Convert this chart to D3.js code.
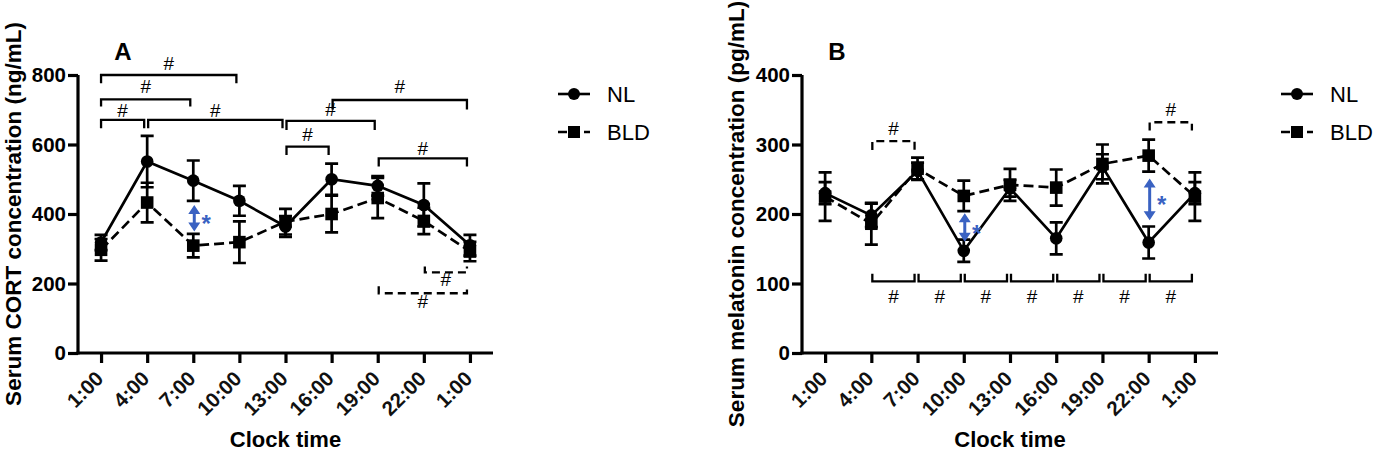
<!DOCTYPE html>
<html>
<head>
<meta charset="utf-8">
<script src="https://cdn.jsdelivr.net/npm/d3@7"></script>
<style>
  html, body { margin: 0; padding: 0; background: #fff; }
  svg, svg text { font-family: "Liberation Sans", Arial, Helvetica, sans-serif; }
  svg { display: block; }
</style>
</head>
<body>
<div id="chart"></div>
<script>
/* Суточные ритмы: кортикостерон (A) и мелатонин (B), NL vs BLD */

// Категории по оси X (последняя 1:00 - следующие сутки)
const clockTimes = ['1:00', '4:00', '7:00', '10:00', '13:00', '16:00', '19:00', '22:00', '1:00'];

// Панель A - CORT, ng/mL (среднее и SEM)
const cortNL = [318, 551, 496, 438, 364, 500, 481, 426, 310];
const cortNLsem = [22, 74, 58, 43, 30, 45, 28, 62, 30];
const cortBLD = [297, 433, 309, 319, 378, 400, 446, 380, 292];
const cortBLDsem = [31, 57, 34, 60, 37, 53, 58, 38, 28];
const cortTicks = [0, 200, 400, 600, 800];

// Панель B - мелатонин, pg/mL
const melNL = [230, 198, 262, 147, 237, 165, 268, 159, 230];
const melNLsem = [16, 17, 12, 16, 12, 23, 18, 23, 16];
const melBLD = [225, 186, 265, 226, 242, 238, 272, 284, 225];
const melBLDsem = [35, 30, 16, 22, 23, 26, 28, 23, 35];
const melTicks = [0, 100, 200, 300, 400];

// Скобки значимости: [от, до, уровень, конец, подпись, пунктир]
const cortBrackets = [
    [0, 3, 800, 776, 834, false],
    [0, 2, 730, 709, 766, false],
    [0, 1, 671, 647, 699, false],
    [1, 4, 671, 647, 697, false],
    [4, 6, 668, 642, 701, false],
    [5, 8, 728, 701, 766, false],
    [4, 5, 594, 570, 628, false],
    [6, 8, 560, 537, 588, false],
    [7, 8, 232, 249, 211, true],
    [6, 8, 172, 192, 148, true]
];
const melBrackets = [
    [1, 2, 305, 292, 323, true],
    [7, 8, 332, 320, 351, true],
    [1, 2, 103, 114, 81, false],
    [2, 3, 103, 114, 81, false],
    [3, 4, 103, 114, 81, false],
    [4, 5, 103, 114, 81, false],
    [5, 6, 103, 114, 81, false],
    [6, 7, 103, 114, 81, false],
    [7, 8, 103, 114, 81, false]
];

// Синие стрелки NL vs BLD: [индекс, верх, низ]
const cortArrows = [[2, 426, 350]];
const melArrows = [[3, 201, 160], [7, 251, 191]];

const W = 1373, H = 452;
const blue = '#3a62c2';

const svg = d3.select('#chart').append('svg')
    .attr('width', W)
    .attr('height', H);

function drawPanel(opt) {
    const g = svg.append('g');

    const x = d3.scalePoint()
        .domain(d3.range(clockTimes.length))
        .range([opt.x0, opt.x1])
        .padding(0.5);

    const y = d3.scaleLinear()
        .domain([0, opt.yMax])
        .range([353, 75]);

    // Ось Y
    const yAxis = g.append('g')
        .attr('transform', `translate(${opt.x0},0)`)
        .call(d3.axisLeft(y).tickValues(opt.ticks).tickSize(10).tickSizeOuter(0).tickPadding(2));

    // Ось X
    const xAxis = g.append('g')
        .attr('transform', 'translate(0,353)')
        .call(d3.axisBottom(x).tickSize(10).tickSizeOuter(0).tickFormat(i => clockTimes[i]));

    [yAxis, xAxis].forEach(a => {
        a.attr('font-family', null).attr('font-size', null);
        a.select('.domain').attr('stroke', '#000').attr('stroke-width', 3.2);
        a.selectAll('.tick line').attr('stroke', '#000').attr('stroke-width', 3.2);
    });
    yAxis.select('.domain').attr('d', `M0,${y(0) + 1.6}V${y(opt.yMax)}`);
    xAxis.select('.domain').attr('d', `M${opt.x0 - 1.6},0H${opt.x1}`);

    yAxis.selectAll('.tick text')
        .attr('font-size', 20.5)
        .attr('font-weight', 'bold')
        .attr('fill', '#000');

    xAxis.selectAll('.tick text')
        .style('font-size', '20.5px')
        .style('font-family', '"Liberation Sans", Arial, sans-serif')
        .attr('font-weight', 'bold')
        .attr('fill', '#111')
        .attr('text-anchor', 'end')
        .attr('dy', null)
        .attr('y', 0)
        .attr('transform', 'translate(3,27) rotate(-45)');

    // Подписи осей
    g.append('text')
        .attr('transform', `translate(${opt.titleX},214) rotate(-90)`)
        .attr('text-anchor', 'middle')
        .attr('dy', '0.35em')
        .attr('font-size', 22.5)
        .attr('font-weight', 'bold')
        .text(opt.yTitle);

    g.append('text')
        .attr('x', (opt.x0 + opt.x1) / 2)
        .attr('y', 447)
        .attr('text-anchor', 'middle')
        .attr('font-size', 22)
        .attr('font-weight', 'bold')
        .text('Clock time');

    g.append('text')
        .attr('x', opt.letterX)
        .attr('y', 60)
        .attr('text-anchor', 'middle')
        .attr('font-size', 24)
        .attr('font-weight', 'bold')
        .text(opt.letter);

    // Линии серий
    const series = [
        { mean: opt.nl, sem: opt.nlSem, dash: null, shape: 'circle' },
        { mean: opt.bld, sem: opt.bldSem, dash: '10,5', shape: 'square' }
    ];

    const line = d3.line()
        .x((d, i) => x(i))
        .y(d => y(d));

    series.forEach(s => {
        g.append('path')
            .datum(s.mean)
            .attr('d', line)
            .attr('fill', 'none')
            .attr('stroke', '#000')
            .attr('stroke-width', 2.7)
            .attr('stroke-dasharray', s.dash);
    });

    // Планки погрешностей
    series.forEach(s => {
        const eb = g.append('g').attr('stroke', '#000').attr('stroke-width', 2.7).attr('fill', 'none');
        s.mean.forEach((m, i) => {
            const cx = x(i), top = y(m + s.sem[i]), bot = y(m - s.sem[i]);
            eb.append('path').attr('d',
                `M${cx},${top}V${bot}M${cx - 6.5},${top}H${cx + 6.5}M${cx - 6.5},${bot}H${cx + 6.5}`);
        });
    });

    // Маркеры
    series.forEach(s => {
        s.mean.forEach((m, i) => {
            if (s.shape === 'circle') {
                g.append('circle').attr('cx', x(i)).attr('cy', y(m)).attr('r', 6.3).attr('fill', '#000');
            } else {
                g.append('rect').attr('x', x(i) - 6.3).attr('y', y(m) - 6.3)
                    .attr('width', 12.6).attr('height', 12.6).attr('fill', '#000');
            }
        });
    });

    // Скобки значимости
    opt.brackets.forEach(([a, b, level, tip, lab, dashed]) => {
        const xa = x(a) + (a > 0 ? 1 : 0), xb = x(b) - 3;
        g.append('path')
            .attr('d', `M${xa},${y(tip)}V${y(level)}H${xb}V${y(tip)}`)
            .attr('fill', 'none')
            .attr('stroke', '#000')
            .attr('stroke-width', 2.3)
            .attr('stroke-dasharray', dashed ? '8,5' : null);
        g.append('text')
            .attr('x', (xa + xb) / 2)
            .attr('y', y(lab))
            .attr('dy', '0.35em')
            .attr('text-anchor', 'middle')
            .attr('font-size', 19)
            .attr('fill', '#000')
            .text('#');
    });

    // Стрелки различий
    opt.arrows.forEach(([i, hi, lo]) => {
        const cx = x(i) + 1, yt = y(hi), yb = y(lo);
        g.append('line')
            .attr('x1', cx).attr('x2', cx)
            .attr('y1', yt + 6).attr('y2', yb - 6)
            .attr('stroke', blue).attr('stroke-width', 3);
        g.append('path')
            .attr('d', `M${cx},${yt}L${cx - 6},${yt + 9}H${cx + 6}Z M${cx},${yb}L${cx - 6},${yb - 9}H${cx + 6}Z`)
            .attr('fill', blue);
        g.append('text')
            .attr('x', cx + 12)
            .attr('y', (yt + yb) / 2 + 14)
            .attr('text-anchor', 'middle')
            .attr('font-size', 24)
            .attr('font-weight', 'bold')
            .attr('fill', blue)
            .text('*');
    });

    // Легенда
    const lg = g.append('g').attr('transform', `translate(${opt.legendX},0)`);
    [['NL', 94, null, 'circle'], ['BLD', 132, '9,4', 'square']].forEach(([name, ly, dash, shape]) => {
        lg.append('line')
            .attr('x1', 0).attr('x2', 32)
            .attr('y1', ly).attr('y2', ly)
            .attr('stroke', '#000').attr('stroke-width', 2.6)
            .attr('stroke-dasharray', dash);
        if (shape === 'circle') {
            lg.append('circle').attr('cx', 16).attr('cy', ly).attr('r', 6);
        } else {
            lg.append('rect').attr('x', 10).attr('y', ly - 6).attr('width', 12).attr('height', 12);
        }
        lg.append('text')
            .attr('x', 49)
            .attr('y', ly)
            .attr('dy', '0.36em')
            .attr('font-size', 22)
            .text(name);
    });
}

drawPanel({
    x0: 78, x1: 493, yMax: 800, ticks: cortTicks,
    nl: cortNL, nlSem: cortNLsem, bld: cortBLD, bldSem: cortBLDsem,
    brackets: cortBrackets, arrows: cortArrows,
    yTitle: 'Serum CORT concentration (ng/mL)', titleX: 13,
    letter: 'A', letterX: 123, legendX: 558
});

drawPanel({
    x0: 802, x1: 1218, yMax: 400, ticks: melTicks,
    nl: melNL, nlSem: melNLsem, bld: melBLD, bldSem: melBLDsem,
    brackets: melBrackets, arrows: melArrows,
    yTitle: 'Serum melatonin concentration (pg/mL)', titleX: 736,
    letter: 'B', letterX: 837, legendX: 1281
});
</script>
</body>
</html>
